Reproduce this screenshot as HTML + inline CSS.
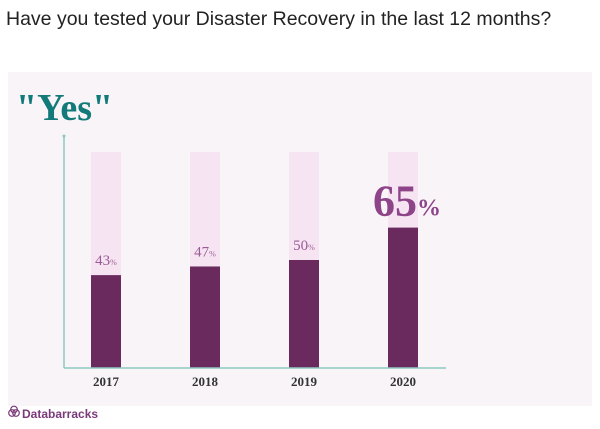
<!DOCTYPE html>
<html><head><meta charset="utf-8"><style>
body{margin:0;width:600px;height:424px;background:#fff;overflow:hidden;font-family:"Liberation Sans",sans-serif}
</style></head><body>
<svg width="600" height="424" id="chart">
<rect x="8" y="72" width="584" height="334" fill="#f9f4f8"/>
<text x="6" y="25" font-size="19.5" fill="#222" font-family="Liberation Sans, sans-serif">Have you tested your Disaster Recovery in the last 12 months?</text>
<text x="16" y="120" font-size="38" font-weight="bold" fill="#137a7a" font-family="Liberation Serif, serif">"Yes"</text>
<line x1="64" y1="135" x2="64" y2="368" stroke="#8cc9c0" stroke-width="1.5"/>
<circle cx="64" cy="136" r="1.5" fill="#8cc9c0"/>
<g id="bars"></g>
<line x1="64" y1="368" x2="446" y2="368" stroke="#8cc9c0" stroke-width="1.5"/>
<g>
<circle cx="12" cy="413" r="3.3" fill="none" stroke="#7a3a7a" stroke-width="1.2"/>
<circle cx="16" cy="413" r="3.3" fill="none" stroke="#7a3a7a" stroke-width="1.2"/>
<circle cx="14" cy="409.5" r="3.3" fill="none" stroke="#7a3a7a" stroke-width="1.2"/>
<text x="22" y="418" font-size="12" font-weight="bold" fill="#7a3a7a">Databarracks</text>
</g>
</svg>
<script>
const years=["2017","2018","2019","2020"];
const values=[43,47,50,65];
const ns="http://www.w3.org/2000/svg";
const g=document.getElementById('bars');
const base=368, full=216, x0=91, step=99, bw=30;
function y(v){return base-v/100*full;}
function xp(i){return x0+i*step;}
function mk(t,a){const e=document.createElementNS(ns,t);for(const k in a)e.setAttribute(k,a[k]);g.appendChild(e);return e;}
years.forEach((yr,i)=>{
  const bg=mk('rect',{x:xp(i),y:y(100),width:bw,height:full,fill:'#f6e4f3'});
  
  
  const b=mk('rect',{x:xp(i),y:y(values[i]),width:bw,height:base-y(values[i]),fill:'#6b2a5e'});
  
  
  const big=i===years.length-1;
  const t=mk('text',{x:xp(i)+bw/2+(big?4:0),y:y(values[i])-(big?12:10),'text-anchor':'middle',fill:big?'#8e4489':'#9a5a94','font-family':'Liberation Serif, serif','font-weight':big?'bold':'normal','font-size':big?44:15});
  t.innerHTML=values[i]+'<tspan font-size="'+(big?24:8)+'">%</tspan>';
  
  
  const l=mk('text',{x:xp(i)+bw/2,y:386,'text-anchor':'middle',fill:'#333','font-family':'Liberation Serif, serif','font-weight':'bold','font-size':13});
  l.textContent=yr;
  
  
});
</script>
</body></html>
